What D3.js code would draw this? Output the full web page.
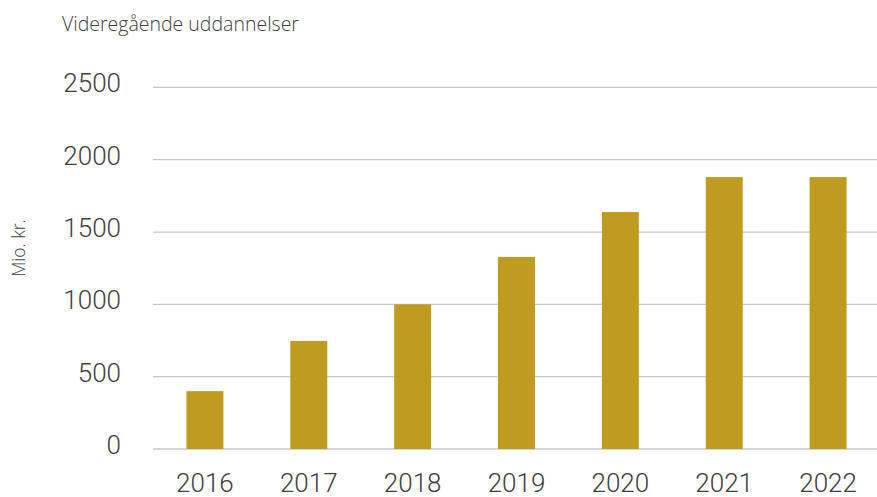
<!DOCTYPE html>
<html>
<head>
<meta charset="utf-8">
<script src="https://cdn.jsdelivr.net/npm/d3@7"></script>
<style>
  html, body { margin: 0; padding: 0; background: #fff; }
  svg text { font-family: Roboto, "Open Sans", sans-serif; fill: #404040; }
</style>
</head>
<body>
<svg id="chart" width="877" height="497"></svg>
<script>
const title = "Videregående uddannelser";
const yLabel = "Mio. kr.";
const years = ["2016", "2017", "2018", "2019", "2020", "2021", "2022"];
const values = [400, 747, 1000, 1328, 1638, 1880, 1880];
const yTicks = [0, 500, 1000, 1500, 2000, 2500];

(function () {
const svg = d3.select("#chart");
const mLeft = 153, mRight = 880, mTop = 87.4, mBottom = 449;

const x = d3.scaleBand().domain(years).range([mLeft, mRight])
  .paddingInner(0.644).paddingOuter(0.322);
const y = d3.scaleLinear().domain([0, 2500]).range([mBottom, mTop]);

// gridlines
svg.append("g").selectAll("line").data(yTicks).join("line")
  .attr("x1", mLeft).attr("x2", 877)
  .attr("y1", d => y(d)).attr("y2", d => y(d))
  .attr("stroke", "#c8c8c8").attr("stroke-width", 1.3);

// bars
svg.append("g").selectAll("rect").data(values).join("rect")
  .attr("x", (d, i) => x(years[i]))
  .attr("width", x.bandwidth())
  .attr("y", d => y(d))
  .attr("height", d => y(0) - y(d))
  .attr("fill", "#BF9C1F");

// y axis labels
const yAxis = d3.axisLeft(y).tickValues(yTicks).tickSize(0).tickPadding(0).tickFormat(d3.format("d"));
const gy = svg.append("g").attr("transform", "translate(121,-4)").call(yAxis);
gy.select(".domain").remove();
gy.selectAll("text").attr("font-size", 26).attr("font-weight", 300)
  .style("font-family", "Roboto, sans-serif").attr("fill", "#404040");

// x axis labels
const xAxis = d3.axisBottom(x).tickSize(0).tickPadding(0);
const gx = svg.append("g").attr("transform", "translate(0,474)").call(xAxis);
gx.select(".domain").remove();
gx.selectAll("text").attr("font-size", 26).attr("font-weight", 300)
  .style("font-family", "Roboto, sans-serif").attr("fill", "#404040");

// title
svg.append("text").attr("x", 62).attr("y", 31)
  .style("font-family", "'Open Sans', sans-serif")
  .attr("font-size", 19.5).attr("font-weight", 300).text(title);

// y label
svg.append("text").attr("transform", "translate(25,248) rotate(-90)")
  .style("font-family", "'Open Sans', sans-serif")
  .attr("text-anchor", "middle").attr("font-size", 17.5).attr("font-weight", 300).text(yLabel);
})();
</script>
</body>
</html>
